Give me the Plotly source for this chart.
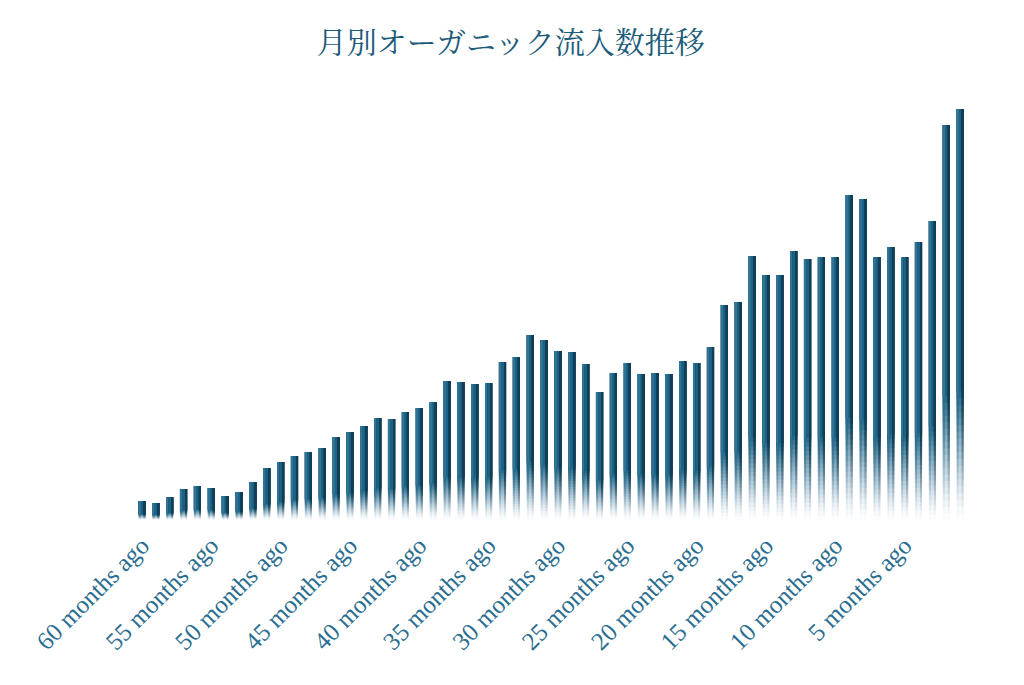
import plotly.graph_objects as go

# ---- data ----
months_ago = list(range(60, 0, -1))
categories = [f"{m} months ago" for m in months_ago]
visits = [190, 170, 230, 310, 340, 320, 240, 280, 380, 520,
          580, 640, 680, 720, 830, 880, 940, 1020, 1010, 1080,
          1120, 1180, 1390, 1380, 1360, 1370, 1580, 1630, 1850, 1800,
          1690, 1680, 1560, 1280, 1470, 1570, 1460, 1470, 1460, 1590,
          1570, 1730, 2150, 2180, 2640, 2450, 2450, 2690, 2610, 2630,
          2630, 3250, 3210, 2630, 2730, 2630, 2780, 2990, 3950, 4110]
tick_labels = [c for c in categories if int(c.split()[0]) % 5 == 0]

title_text = "月別オーガニック流入数推移"

# ---- styling ----
fade_frac = 0.33      # bottom fraction of each bar that fades out
n_steps = 20
layers = [  # (rgb, width, offset)
    ((29, 96, 129), 0.52, -0.26),
    ((46, 116, 150), 0.10, -0.21),
    ((16, 62, 86), 0.15, 0.11),
]

# cumulative opacity targets for overlapping layers (bottom -> top)
targets = [((k + 1) / n_steps) ** 1.5 for k in range(n_steps)]
layer_alphas = []
prev = 0.0
for t in targets:
    a = 1.0 if t >= 1 else 1 - (1 - t) / (1 - prev)
    layer_alphas.append(a)
    prev = t

fig = go.Figure()
for rgb, w, off in layers:
    r, g, b = rgb
    for k, a in enumerate(layer_alphas):
        start = [v * fade_frac * k / n_steps for v in visits]
        fig.add_trace(go.Bar(
            x=categories,
            y=[v - s for v, s in zip(visits, start)],
            base=start,
            width=w, offset=off,
            marker=dict(color=f"rgba({r},{g},{b},{a:.4f})", line=dict(width=0)),
            hoverinfo="skip", showlegend=False,
        ))

fig.update_layout(
    width=1024, height=685,
    barmode="overlay",
    paper_bgcolor="white", plot_bgcolor="white",
    margin=dict(l=127, r=65, t=92, b=173, autoexpand=False),
    title=dict(text=title_text, x=0.491, xanchor="center", y=0.950, yanchor="middle",
               font=dict(family="Noto Serif CJK JP, Noto Sans CJK JP, serif", size=30, color="#1d5b7b")),
    xaxis=dict(
        type="category", automargin=False,
        tickmode="array", tickvals=tick_labels, ticktext=tick_labels,
        tickangle=-45, ticklabelstandoff=5,
        tickfont=dict(family="Liberation Serif", size=25, color="#2a6d90"),
        showgrid=False, showline=False, zeroline=False, ticks="",
        range=[-0.5, 59.5],
    ),
    yaxis=dict(
        range=[0, 4200], automargin=False,
        showgrid=False, showline=False, zeroline=False,
        showticklabels=False, ticks="",
    ),
)

fig.write_html("out.html")
